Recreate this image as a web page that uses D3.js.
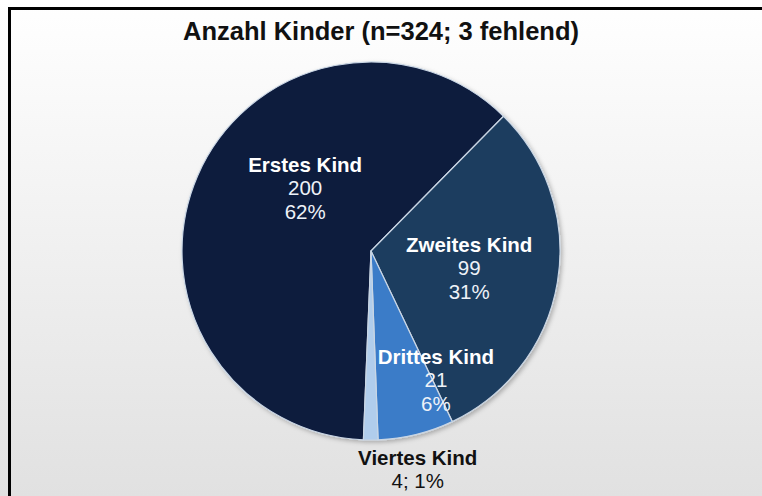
<!DOCTYPE html>
<html>
<head>
<meta charset="utf-8">
<script src="https://cdn.jsdelivr.net/npm/d3@7"></script>
<style>
    html, body { margin: 0; padding: 0; background: #fff; }
    svg { display: block; font-family: "Liberation Sans", Arial, sans-serif; }
</style>
</head>
<body>
<div class="content"></div>
<script>
(function () {
    'use strict';
    // data
    var categories = ["Erstes Kind", "Zweites Kind", "Drittes Kind", "Viertes Kind"],
        counts = [200, 99, 21, 4],
        percents = ["62%", "31%", "6%", "1%"],
        title = "Anzahl Kinder (n=324; 3 fehlend)";

    var width = 762, height = 496,
        center = {x: 371, y: 251},
        radius = 189,
        colors = ["#0c1a3e", "#1f3d5f", "#3a7bc8", "#b0cdec"],
        // label placement: angle shift (deg) from slice middle and distance as share of radius
        labelPlace = [
            {shift: 20.3, r: 0.482, inside: true},
            {shift: 0.2, r: 0.527, inside: true},
            {shift: -12.9, r: 0.764, inside: true},
            {shift: 0, r: 1.0, inside: false, dx: 47, dy: 29}
        ],
        lineH = 23.5;

    var svg = d3.select(".content").append("svg")
        .attr("width", width)
        .attr("height", height);

    var defs = svg.append("defs");
    var grad = defs.append("linearGradient")
        .attr("id", "bg").attr("x1", 0).attr("y1", 0).attr("x2", 0).attr("y2", 1);
    grad.append("stop").attr("offset", "0%").attr("stop-color", "#ffffff");
    grad.append("stop").attr("offset", "100%").attr("stop-color", "#e1e1e1");

    var shadow = defs.append("filter").attr("id", "shadow")
        .attr("x", "-10%").attr("y", "-10%").attr("width", "120%").attr("height", "120%");
    shadow.append("feDropShadow")
        .attr("dx", 2).attr("dy", 2).attr("stdDeviation", 2)
        .attr("flood-color", "#000").attr("flood-opacity", 0.25);

    // background + frame (open to the right and bottom)
    svg.append("rect")
        .attr("x", 0).attr("y", 0).attr("width", width).attr("height", height)
        .attr("fill", "url(#bg)");
    svg.append("path")
        .attr("d", "M9.5," + height + "V8.5H" + width)
        .attr("fill", "none")
        .attr("stroke", "#000")
        .attr("stroke-width", 3);

    svg.append("text")
        .attr("x", 381)
        .attr("y", 40)
        .attr("text-anchor", "middle")
        .attr("font-size", "25.5px")
        .attr("font-weight", "bold")
        .attr("fill", "#111")
        .text(title);

    var startDeg = 182.3;
    var pie = d3.pie().sort(null)
        .startAngle(startDeg * Math.PI / 180)
        .endAngle((startDeg + 360) * Math.PI / 180);
    var arcs = pie(counts);
    var arc = d3.arc().innerRadius(0).outerRadius(radius);

    var g = svg.append("g")
        .attr("transform", "translate(" + [center.x, center.y] + ")");

    g.append("g").attr("filter", "url(#shadow)")
        .selectAll("path")
        .data(arcs)
        .enter().append("path")
        .attr("d", arc)
        .attr("fill", function (d, i) { return colors[i]; })
        .attr("stroke", "#c9d6e4")
        .attr("stroke-width", 1.2)
        .attr("stroke-linejoin", "round");

    var labels = g.selectAll("g.label")
        .data(arcs)
        .enter().append("g")
        .attr("class", "label")
        .attr("transform", function (d, i) {
            var p = labelPlace[i],
                a = (d.startAngle + d.endAngle) / 2 + p.shift * Math.PI / 180,
                r = p.r * radius,
                x = Math.sin(a) * r,
                y = -Math.cos(a) * r;
            if (!p.inside) {
                x += p.dx;
                y += p.dy;
            }
            return "translate(" + [x, y] + ")";
        });

    labels.each(function (d, i) {
        var lg = d3.select(this),
            inside = labelPlace[i].inside,
            lines = inside ? [categories[i], String(counts[i]), percents[i]]
                           : [categories[i], counts[i] + "; " + percents[i]],
            offset = -(lines.length - 1) / 2 * lineH;
        lines.forEach(function (t, k) {
            lg.append("text")
                .attr("x", 0)
                .attr("y", offset + k * lineH)
                .attr("dy", "0.36em")
                .attr("text-anchor", "middle")
                .attr("font-size", "20.5px")
                .attr("font-weight", k === 0 ? "bold" : "normal")
                .attr("fill", inside ? (k === 0 ? "#ffffff" : "#eef2f8") : "#111")
                .text(t);
        });
    });
}());
</script>
</body>
</html>
